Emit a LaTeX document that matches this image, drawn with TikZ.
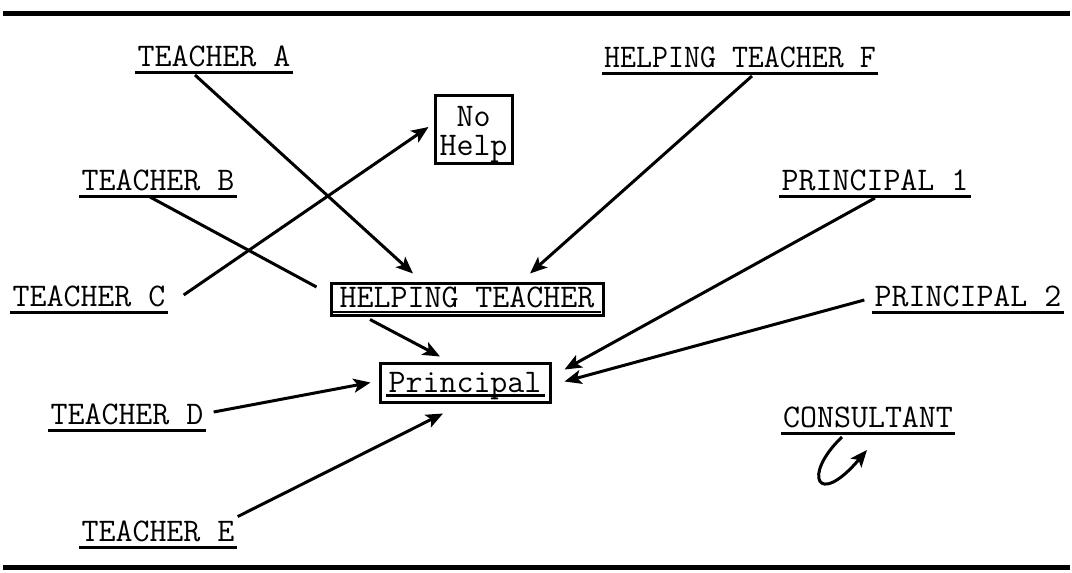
\documentclass[tikz,border=0pt]{standalone}
\usepackage{fontspec}
\usetikzlibrary{arrows.meta,calc}
\begin{document}
\begin{tikzpicture}[x=1pt,y=-1pt,
  tw/.style={font=\fontsize{33}{28}\selectfont\ttfamily},
  lbl/.style={tw, inner xsep=2pt, inner ysep=0pt, text height=20pt, text depth=5pt, anchor=south},
  uline/.style={line width=3pt},
  boxn/.style={tw, draw, line width=3pt, inner sep=0pt},
  ln/.style={line width=3pt},
  arr/.style={ln, -{Stealth[length=17pt,width=14pt,inset=4pt]}},
  rule/.style={line width=5pt}]
\useasboundingbox (0,0) rectangle (1072,573);

% horizontal rules framing the figure
\coordinate (tl) at (3,13);
\coordinate (tr) at (1070,13);
\coordinate (bl) at (3,567);
\coordinate (br) at (1070,567);
\draw[rule] (tl) -- (tr);
\draw[rule] (bl) -- (br);

% underlined source labels
\node[lbl] (ta)  at (214,72)  {TEACHER A};
\node[lbl] (htf) at (740,73)  {\scalebox{0.94}[1]{HELPING TEACHER F}};
\node[lbl] (tb)  at (158,196) {TEACHER B};
\node[lbl] (p1)  at (875,196) {PRINCIPAL 1};
\node[lbl] (tc)  at (89,312)  {TEACHER C};
\node[lbl] (p2)  at (968,312) {PRINCIPAL 2};
\node[lbl] (td)  at (127,430) {TEACHER D};
\node[lbl] (co)  at (868,433) {CONSULTANT};
\node[lbl] (te)  at (158,547) {TEACHER E};
\foreach \n in {ta,htf,tb,p1,tc,p2,td,co,te}
  \draw[uline] (\n.south west) -- (\n.south east);

% boxed targets
\node[boxn, minimum width=77pt, minimum height=68pt] (nohelp) at (473.5,129) {};
\node[tw, inner sep=0pt, anchor=base] (no)   at (473.5,126) {No};
\node[tw, inner sep=0pt, anchor=base] (help) at (473.5,155) {Help};

\node[boxn, minimum width=272pt, minimum height=32pt, text height=16pt, text depth=0pt] (ht) at (467,299) {HELPING TEACHER};
\draw[line width=2pt] ([xshift=-134pt,yshift=5pt]ht.south) -- ([xshift=134pt,yshift=5pt]ht.south);

\node[boxn, minimum width=170pt, minimum height=39pt, text height=19pt, text depth=0pt] (pr) at (465,382.5) {Principal};
\draw[line width=2.5pt] ([xshift=-79pt,yshift=8pt]pr.south) -- ([xshift=80pt,yshift=8pt]pr.south);

% connectors
\draw[arr] ([xshift=-19pt,yshift=-3pt]ta.south)  -- ([xshift=-54pt,yshift=8pt]ht.north);
\draw[arr] ([xshift=12pt,yshift=-3pt]htf.south)  -- ([xshift=63pt,yshift=8pt]ht.north);
\draw[ln]  ([xshift=-8pt,yshift=-1pt]tb.south)   -- ([xshift=-13pt,yshift=12pt]ht.west);
\draw[arr] ([xshift=16pt,yshift=17pt]tc.south east) -- ([xshift=-5pt,yshift=2pt]nohelp.west);
\draw[arr] ([yshift=-2pt]p1.south)               -- ([xshift=13pt,yshift=13pt]pr.east);
\draw[arr] ([xshift=-8pt,yshift=12pt]p2.south west) -- ([xshift=13pt,yshift=1pt]pr.east);
\draw[arr] ([xshift=-97pt,yshift=-3pt]ht.south)  -- ([xshift=-25pt,yshift=5pt]pr.north);
\draw[arr] ([xshift=8pt,yshift=18pt]td.south east) -- ([xshift=-8pt]pr.west);
\draw[arr] ([xshift=1pt,yshift=5pt]te.north east) -- ([xshift=-22pt,yshift=-10pt]pr.south);

% consultant turns back on itself
\coordinate (cl) at ([xshift=-26pt,yshift=-4pt]co.south);
\draw[arr] (cl) .. controls ($(cl)+(-40,38)$) and ($(cl)+(-25,72)$) .. ($(cl)+(25,13)$);
\end{tikzpicture}
\end{document}
